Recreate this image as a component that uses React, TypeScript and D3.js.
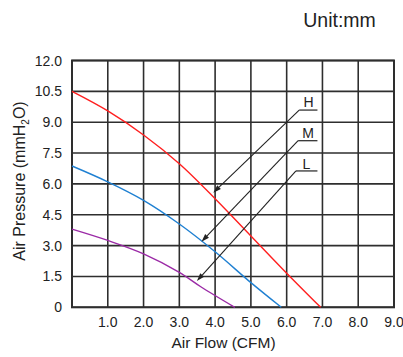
import React from "react";
import * as d3 from "d3";

const xTicks = [1, 2, 3, 4, 5, 6, 7, 8, 9];
const yTicks = [0, 1.5, 3, 4.5, 6, 7.5, 9, 10.5, 12];

const flowH = [0, 1, 2, 3, 4, 5, 6, 6.95];
const pressH = [10.5, 9.55, 8.38, 6.98, 5.28, 3.47, 1.66, 0];
const flowM = [0, 1, 2, 3, 4, 5, 5.85];
const pressM = [6.87, 6.1, 5.2, 4.05, 2.7, 1.2, 0];
const flowL = [0, 1, 2, 3, 3.6, 4.55];
const pressL = [3.8, 3.25, 2.6, 1.7, 1.0, 0];

const labels = ["H", "M", "L"];
const labelX = [6.61, 6.6, 6.55];
const labelY = [9.74, 8.22, 6.72];
const lineStartX = [6.35, 6.32, 6.26];
const lineStartY = [9.59, 8.1, 6.63];
const lineEndX = [6.86, 6.86, 6.86];
const arrowTipX = [3.95, 3.62, 3.49];
const arrowTipY = [5.57, 3.19, 1.28];

const W = 403;
const H = 357;
const FONT = "'Liberation Sans', Arial, sans-serif";

export default function App() {
  const x = d3.scaleLinear().domain([0, 9]).range([72, 394]);
  const y = d3.scaleLinear().domain([0, 12]).range([307.3, 60.5]);
  const line = d3
    .line<[number, number]>()
    .x((d) => x(d[0]))
    .y((d) => y(d[1]))
    .curve(d3.curveCatmullRom.alpha(0.5));

  const series = [
    { fx: flowH, py: pressH, color: "#ff1f1f" },
    { fx: flowM, py: pressM, color: "#1f80d2" },
    { fx: flowL, py: pressL, color: "#9b2aa6" },
  ];

  const gridColor = "#2e2e2e";

  return (
    <svg
      width={W}
      height={H}
      style={{ position: "absolute", left: 0, top: 0, background: "#fff" }}
      fontFamily={FONT}
    >
      <rect x={0} y={0} width={W} height={H} fill="#fff" />
      {[0, ...xTicks].map((t) => (
        <line
          key={"vx" + t}
          x1={x(t)}
          x2={x(t)}
          y1={y(0)}
          y2={y(12)}
          stroke={gridColor}
          strokeWidth={1.6}
        />
      ))}
      {yTicks.map((t) => (
        <line
          key={"hy" + t}
          x1={x(0)}
          x2={x(9)}
          y1={y(t)}
          y2={y(t)}
          stroke={gridColor}
          strokeWidth={1.6}
        />
      ))}
      <rect
        x={x(0)}
        y={y(12)}
        width={x(9) - x(0)}
        height={y(0) - y(12)}
        fill="none"
        stroke={gridColor}
        strokeWidth={2}
      />
      {series.map((s, i) => (
        <path
          key={"s" + i}
          d={line(s.fx.map((v, j) => [v, s.py[j]] as [number, number])) || ""}
          fill="none"
          stroke={s.color}
          strokeWidth={1.4}
        />
      ))}
      {labels.map((lab, i) => {
        const sx = x(lineStartX[i]);
        const sy = y(lineStartY[i]);
        const tx = x(arrowTipX[i]);
        const ty = y(arrowTipY[i]);
        const ang = Math.atan2(ty - sy, tx - sx);
        const len = 8;
        const hw = 2.6;
        const bx = tx - len * Math.cos(ang);
        const by = ty - len * Math.sin(ang);
        const px = -Math.sin(ang) * hw;
        const py = Math.cos(ang) * hw;
        return (
          <g key={"a" + i}>
            <line
              x1={sx}
              y1={sy}
              x2={x(lineEndX[i])}
              y2={sy}
              stroke="#222"
              strokeWidth={1.2}
            />
            <line
              x1={sx}
              y1={sy}
              x2={bx}
              y2={by}
              stroke="#222"
              strokeWidth={1.1}
            />
            <path
              d={`M${tx},${ty}L${bx + px},${by + py}L${bx - px},${by - py}Z`}
              fill="#222"
            />
            <text
              x={x(labelX[i])}
              y={y(labelY[i])}
              textAnchor="middle"
              fontSize={14}
              fill="#222"
            >
              {lab}
            </text>
          </g>
        );
      })}
      {yTicks.map((t) => (
        <text
          key={"yl" + t}
          x={62}
          y={y(t) + 5}
          textAnchor="end"
          fontSize={14}
          fill="#222"
        >
          {t === 0 ? "0" : t.toFixed(1)}
        </text>
      ))}
      {xTicks.map((t) => (
        <text
          key={"xl" + t}
          x={x(t)}
          y={327}
          textAnchor="middle"
          fontSize={14}
          fill="#222"
        >
          {t.toFixed(1)}
        </text>
      ))}
      <text
        x={223.5}
        y={348}
        textAnchor="middle"
        fontSize={15.5}
        fill="#222"
      >
        Air Flow (CFM)
      </text>
      <text
        transform={`translate(25,181) rotate(-90)`}
        textAnchor="middle"
        fontSize={16}
        fill="#222"
      >
        Air Pressure (mmH
        <tspan fontSize={10} dy={4}>
          2
        </tspan>
        <tspan dy={-4}>O)</tspan>
      </text>
      <text x={339.5} y={27} textAnchor="middle" fontSize={19.5} fill="#222">
        Unit:mm
      </text>
    </svg>
  );
}
